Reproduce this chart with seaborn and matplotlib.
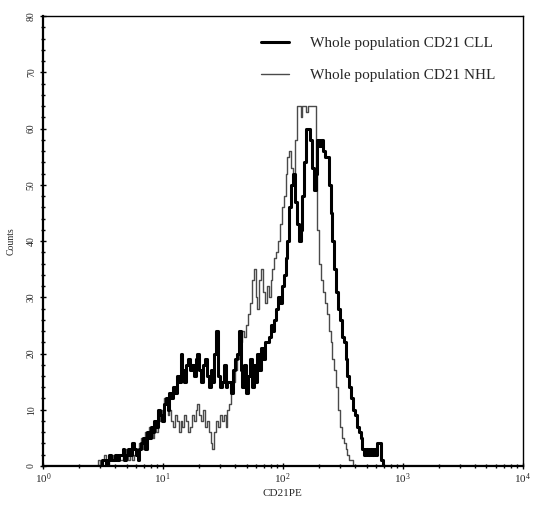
import numpy as np
import pandas as pd
import seaborn as sns
import matplotlib.pyplot as plt
from matplotlib.ticker import MultipleLocator, LogLocator, NullFormatter

# ---- data: histogram counts per channel (64 channels per decade, 256 channels) ----
channels_per_decade = 64
n_channels = 256
first_channel = 30

cll_counts = [
    0, 0, 1, 1, 0, 1, 2, 1, 1, 2,
    1, 2, 2, 3, 1, 2, 3, 2, 4, 3,
    2, 1, 3, 4, 5, 3, 6, 5, 7, 6,
    8, 7, 10, 9, 8, 11, 12, 10, 13, 12,
    14, 13, 16, 15, 20, 17, 15, 18, 19, 17,
    18, 16, 19, 20, 17, 15, 18, 19, 16, 14,
    17, 15, 20, 24, 16, 14, 15, 18, 14, 15,
    15, 13, 17, 19, 20, 24, 17, 14, 18, 13,
    16, 19, 14, 18, 15, 20, 17, 21, 19, 22,
    22, 23, 25, 24, 26, 28, 30, 29, 32, 34,
    37, 40, 46, 50, 52, 47, 43, 40, 42, 48,
    54, 60, 60, 58, 53, 49, 52, 58, 57, 58,
    56, 55, 55, 50, 45, 40, 35, 31, 28, 26,
    23, 22, 19, 16, 14, 12, 10, 9, 7, 6,
    5, 3, 2, 3, 2, 3, 2, 3, 2, 4,
    4, 1, 0, 0, 0,
]

nhl_counts = [
    1, 0, 1, 2, 1, 0, 1, 2, 1, 1,
    2, 1, 1, 2, 3, 2, 1, 2, 1, 2,
    3, 2, 4, 5, 3, 6, 5, 7, 6, 5,
    7, 6, 8, 9, 10, 12, 11, 9, 10, 8,
    7, 9, 8, 6, 8, 7, 9, 8, 6, 7,
    9, 8, 10, 11, 9, 8, 10, 7, 8, 6,
    4, 3, 6, 8, 7, 9, 8, 9, 7, 10,
    11, 13, 15, 17, 19, 21, 22, 24, 23, 25,
    27, 29, 33, 35, 30, 28, 33, 35, 31, 29,
    32, 30, 33, 35, 37, 38, 40, 43, 46, 48,
    52, 55, 56, 53, 51, 58, 64, 64, 62, 64,
    64, 63, 64, 64, 64, 64, 52, 42, 36, 33,
    31, 29, 27, 24, 22, 19, 17, 14, 10, 7,
    5, 4, 3, 2, 1, 1, 0, 0, 0, 0,
    0, 0, 0, 0, 0, 0, 0, 0, 0, 0,
    0, 0, 0, 0, 0,
]

series_labels = ["Whole population CD21 CLL", "Whole population CD21 NHL"]
x_label = "CD21PE"
y_label = "Counts"

# ---- build long table ----
channels = np.arange(n_channels)
intensity = 10.0 ** (channels / channels_per_decade)

def full_hist(vals):
    arr = np.zeros(n_channels)
    arr[first_channel:first_channel + len(vals)] = vals
    return arr

df = pd.concat([
    pd.DataFrame({"intensity": intensity, "count": full_hist(cll_counts), "population": series_labels[0]}),
    pd.DataFrame({"intensity": intensity, "count": full_hist(nhl_counts), "population": series_labels[1]}),
])

sns.set_theme(style="ticks")
plt.rcParams["font.family"] = ["Liberation Serif", "DejaVu Serif"]
plt.rcParams["mathtext.fontset"] = "stix"

fig = plt.figure(figsize=(5.36, 5.07), dpi=100)
ax = fig.add_axes([0.080, 0.081, 0.895, 0.887])

styles = {series_labels[0]: dict(color="black", linewidth=2.2),
          series_labels[1]: dict(color="#4a4a4a", linewidth=1.0)}
for lab in [series_labels[1], series_labels[0]]:
    sub = df[df["population"] == lab]
    sns.lineplot(data=sub, x="intensity", y="count", ax=ax, label=lab,
                 drawstyle="steps-mid", estimator=None, **styles[lab])

ax.set_xscale("log")
ax.set_xlim(1, 1e4)
ax.set_ylim(0, 80)
ax.yaxis.set_major_locator(MultipleLocator(10))
ax.yaxis.set_minor_locator(MultipleLocator(2))
ax.xaxis.set_major_locator(LogLocator(base=10, numticks=10))
ax.xaxis.set_minor_locator(LogLocator(base=10, subs=np.arange(2, 10), numticks=20))
ax.xaxis.set_minor_formatter(NullFormatter())

ax.tick_params(axis="both", which="major", direction="inout", length=4, width=1, labelsize=7, color="black")
ax.tick_params(axis="both", which="minor", direction="inout", length=2.5, width=1, color="black")
ax.tick_params(axis="y", labelrotation=90, pad=3)
for t in ax.get_yticklabels():
    t.set_va("center")
ax.tick_params(axis="x", pad=2, labelsize=8)

for s in ax.spines.values():
    s.set_color("black")
    s.set_linewidth(1.0)
ax.spines["left"].set_linewidth(1.6)
ax.spines["bottom"].set_linewidth(1.6)

ax.set_xlabel(x_label, fontsize=8, labelpad=2)
ax.set_ylabel(y_label, fontsize=7, labelpad=8)

handles, labels = ax.get_legend_handles_labels()
order = [labels.index(series_labels[0]), labels.index(series_labels[1])]
ax.legend([handles[i] for i in order], [labels[i] for i in order],
          loc="upper left", bbox_to_anchor=(0.455, 0.955), frameon=False,
          fontsize=11, handlelength=1.8, handletextpad=1.4, labelspacing=1.2,
          borderpad=0, borderaxespad=0)

fig.savefig("out.png", dpi=100)
